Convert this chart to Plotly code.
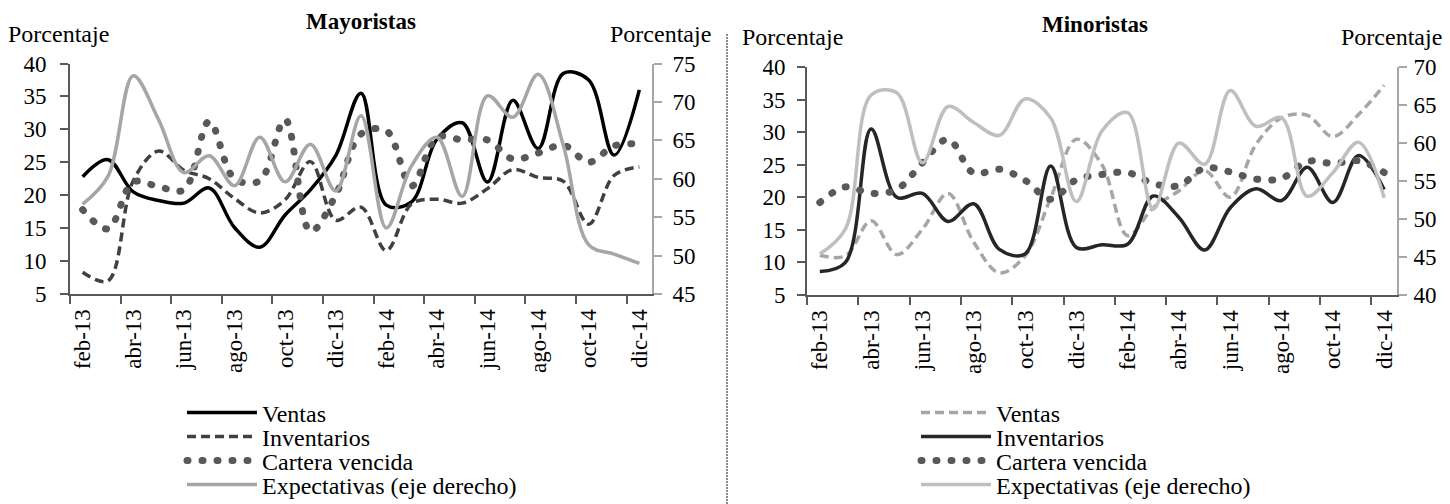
import plotly.graph_objects as go

W, H = 1450, 504

# Monthly categories (feb-13 .. dic-14)
meses = ["feb-13", "mar-13", "abr-13", "may-13", "jun-13", "jul-13", "ago-13",
         "sep-13", "oct-13", "nov-13", "dic-13", "ene-14", "feb-14", "mar-14",
         "abr-14", "may-14", "jun-14", "jul-14", "ago-14", "sep-14", "oct-14",
         "nov-14", "dic-14"]

# Mayoristas
may_ventas = [22.8, 25.4, 20.5, 19.2, 18.8, 21.1, 15.1, 12.1, 17.0, 20.8, 26.0, 35.5,
              18.5, 19.0, 28.5, 31.0, 22.0, 34.4, 27.1, 38.5, 37.5, 26.1, 36.0]
may_inventarios = [8.3, 7.0, 22.2, 26.7, 23.8, 22.5, 19.5, 17.3, 19.3, 25.1, 16.2, 18.2,
                   11.6, 18.7, 19.4, 18.8, 21.0, 23.9, 22.7, 22.1, 15.6, 23.0, 24.3]
may_cartera = [17.8, 14.9, 22.0, 21.3, 20.8, 31.2, 22.5, 22.2, 31.5, 14.5, 20.0, 29.3,
               29.8, 21.4, 28.8, 28.4, 28.4, 25.5, 26.4, 27.6, 25.0, 27.5, 27.8]
may_expectativas = [56.7, 60.3, 73.4, 67.7, 60.8, 63.0, 59.1, 65.4, 59.6, 64.5, 58.4, 68.2,
                    53.6, 61.7, 65.4, 57.7, 70.8, 68.0, 73.6, 64.3, 51.4, 50.2, 49.0]

# Minoristas
min_ventas = [11.1, 11.0, 16.4, 11.2, 15.1, 20.6, 13.1, 8.4, 11.0, 19.9, 28.9, 25.0,
              14.1, 18.4, 21.0, 24.1, 20.0, 28.1, 32.2, 32.6, 29.3, 32.7, 37.2]
min_inventarios = [8.6, 10.0, 30.5, 20.0, 20.6, 16.3, 19.0, 12.0, 11.3, 24.8, 12.3, 12.7,
                   12.8, 20.2, 16.9, 11.9, 18.4, 21.3, 19.5, 24.6, 19.2, 26.4, 21.2]
min_cartera = [19.2, 21.6, 20.6, 21.2, 25.3, 28.9, 23.7, 24.3, 22.6, 19.7, 22.7, 23.5,
               23.8, 22.1, 21.8, 24.5, 23.9, 22.8, 22.9, 25.5, 25.2, 25.6, 23.8]
min_expectativas = [45.4, 48.7, 66.3, 66.6, 57.4, 64.8, 62.7, 61.0, 65.8, 63.3, 52.3, 61.6,
                    64.0, 51.3, 60.0, 57.2, 66.9, 62.2, 63.3, 53.0, 56.1, 60.1, 52.8]

SERIF = "'Liberation Serif', 'Times New Roman', serif"
AX_DARK = "#595959"
AX_LIGHT = "#a6a6a6"
DOT_DASH = "1px,14px"


def fx(px):
    return px / W


def fy(py):
    return 1 - py / H


fig = go.Figure()


def add_line(y, name, color, xa, ya, legend, dash="solid", width=3.5):
    fig.add_trace(go.Scatter(
        x=meses, y=y, name=name, mode="lines",
        line=dict(color=color, width=width, dash=dash, shape="spline", smoothing=1),
        xaxis=xa, yaxis=ya, legend=legend, hoverinfo="skip"))


# Mayoristas panel
add_line(may_ventas, "Ventas", "#000000", "x", "y", "legend")
add_line(may_inventarios, "Inventarios", "#404040", "x", "y", "legend2", dash="9px,5px")
add_line(may_cartera, "Cartera vencida", "#595959", "x", "y", "legend3", dash=DOT_DASH, width=7)
add_line(may_expectativas, "Expectativas (eje derecho)", "#a6a6a6", "x", "y2", "legend4")

# Minoristas panel
add_line(min_ventas, "Ventas", "#a6a6a6", "x2", "y3", "legend5", dash="9px,5px")
add_line(min_inventarios, "Inventarios", "#262626", "x2", "y3", "legend6")
add_line(min_cartera, "Cartera vencida", "#595959", "x2", "y3", "legend7", dash=DOT_DASH, width=7)
add_line(min_expectativas, "Expectativas (eje derecho)", "#bfbfbf", "x2", "y4", "legend8")


def xaxis_cfg(domain, anchor):
    # categories sit between tick marks, labels every second month
    return dict(domain=domain, anchor=anchor, type="category",
                categoryorder="array", categoryarray=meses,
                range=[-0.5, len(meses) - 0.5],
                tickmode="linear", tick0=0, dtick=2, tickson="boundaries",
                ticks="outside", ticklen=8, tickcolor=AX_DARK, tickwidth=1.5,
                showline=True, linecolor=AX_DARK, linewidth=2,
                showgrid=False, zeroline=False, tickangle=-90,
                tickfont=dict(family=SERIF, size=23, color="#000000"),
                ticklabelstandoff=4, automargin=False, fixedrange=True)


def yaxis_cfg(domain, anchor, rng, color, standoff, side="left", overlaying=None):
    d = dict(domain=domain, anchor=anchor, range=rng, tickmode="linear",
             tick0=rng[0], dtick=5, ticks="outside", ticklen=8, tickcolor=color,
             tickwidth=1.5, showline=True, linecolor=color, linewidth=2,
             showgrid=False, zeroline=False,
             tickfont=dict(family=SERIF, size=23, color="#000000"),
             ticklabelstandoff=standoff, side=side,
             automargin=False, fixedrange=True)
    if overlaying:
        d["overlaying"] = overlaying
    return d


dom_l = [fx(70), fx(652)]
dom_r = [fx(807), fx(1397)]
ydom_l = [fy(294), fy(63.5)]
ydom_r = [fy(295), fy(67)]

# one single-entry legend per row, so the row spacing can follow the chart
legend_common = dict(font=dict(family=SERIF, size=24, color="#000000"),
                     xanchor="left", yanchor="middle", itemwidth=70,
                     bgcolor="rgba(0,0,0,0)", tracegroupgap=0,
                     itemclick=False, itemdoubleclick=False)
rows_y = [413, 437, 461, 485]
legends = {}
for k, ry in enumerate(rows_y):
    legends["legend" if k == 0 else f"legend{k + 1}"] = dict(x=fx(182), y=fy(ry), **legend_common)
    legends[f"legend{k + 5}"] = dict(x=fx(916), y=fy(ry), **legend_common)

fig.update_layout(
    width=W, height=H,
    margin=dict(l=0, r=0, t=0, b=0, autoexpand=False),
    paper_bgcolor="#ffffff", plot_bgcolor="rgba(0,0,0,0)",
    font=dict(family=SERIF, color="#000000"),
    xaxis=xaxis_cfg(dom_l, "y"),
    yaxis=yaxis_cfg(ydom_l, "x", [5, 40], AX_DARK, 9),
    yaxis2=yaxis_cfg(ydom_l, "x", [45, 75], AX_LIGHT, 6, side="right", overlaying="y"),
    xaxis2=xaxis_cfg(dom_r, "y3"),
    yaxis3=yaxis_cfg(ydom_r, "x2", [5, 40], AX_DARK, 7),
    yaxis4=yaxis_cfg(ydom_r, "x2", [40, 70], AX_LIGHT, 2, side="right", overlaying="y3"),
    showlegend=True,
    **legends,
)

title_font = dict(family=SERIF, size=23, color="#000000")
label_font = dict(family=SERIF, size=24, color="#000000")
annotations = [
    dict(text="<b>Mayoristas</b>", x=fx(361), y=fy(22), font=title_font, xanchor="center"),
    dict(text="<b>Minoristas</b>", x=fx(1095), y=fy(24), font=title_font, xanchor="center"),
    dict(text="Porcentaje", x=fx(6), y=fy(34), font=label_font, xanchor="left"),
    dict(text="Porcentaje", x=fx(713), y=fy(34), font=label_font, xanchor="right"),
    dict(text="Porcentaje", x=fx(740), y=fy(37), font=label_font, xanchor="left"),
    dict(text="Porcentaje", x=fx(1444), y=fy(37), font=label_font, xanchor="right"),
]
for a in annotations:
    a.update(xref="paper", yref="paper", yanchor="middle", showarrow=False)
fig.update_layout(annotations=annotations)

# dotted separator between the two panels
fig.add_shape(type="line", xref="paper", yref="paper",
              x0=fx(727), x1=fx(727), y0=0, y1=fy(33),
              line=dict(color="#8c8c8c", width=2, dash="2px,1px"))

# round caps turn the short dashes of the "Cartera vencida" lines into dots
post = """
var gd = document.getElementById('{plot_id}');
function roundDots() {
  gd.querySelectorAll('path').forEach(function (p) {
    var d = p.style.strokeDasharray || '';
    if (d.indexOf('14px') !== -1) { p.style.strokeLinecap = 'round'; }
  });
}
roundDots();
gd.on('plotly_afterplot', roundDots);
"""

fig.write_html("out.html", post_script=post, config={"displayModeBar": False})
